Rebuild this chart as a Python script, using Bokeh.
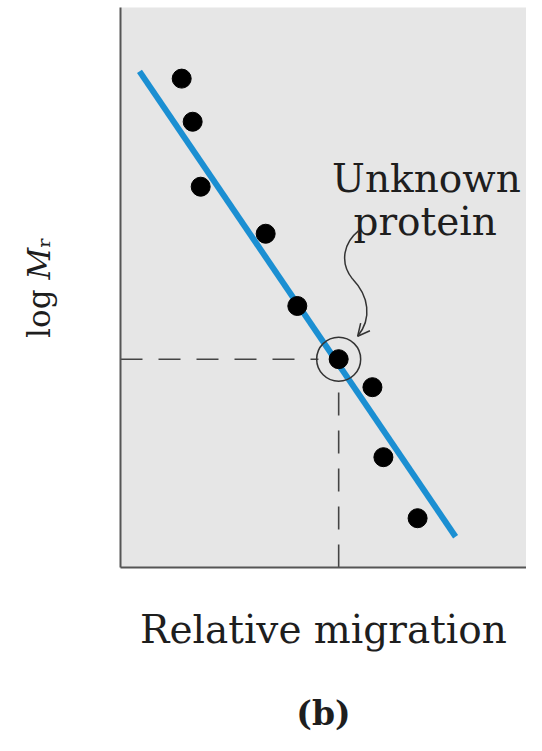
import numpy as np
from bokeh.plotting import figure
from bokeh.models import Range1d, Arrow, OpenHead, LinearAxis
from bokeh.core.properties import value
from bokeh.embed import file_html
from bokeh.resources import INLINE

# ---- data (relative units) ----
migration = [0.145, 0.171, 0.190, 0.344, 0.419, 0.517, 0.597, 0.623, 0.704]
log_mr = [0.873, 0.796, 0.680, 0.596, 0.467, 0.372, 0.322, 0.197, 0.088]
unknown_x = [0.517]
unknown_y = [0.372]
fit_x = [0.045, 0.794]
fit_y = [0.886, 0.055]
annotation_lines = ["Unknown", "protein"]
x_title = "Relative migration"
y_title = "log \U0001D440\u1D63"
panel_label = "(b)"

FONT = "DejaVu Serif"
INK = "#1e1e1e"

p = figure(width=526, height=735,
           x_range=Range1d(0, 406 / 422), y_range=Range1d(0, 1),
           output_backend="svg", toolbar_location=None,
           min_border_left=120, min_border_right=0,
           min_border_top=7, min_border_bottom=168)
p.background_fill_color = "#e6e6e6"
p.border_fill_color = "white"
p.outline_line_color = None
p.grid.visible = False

# panel label carried by a second, line-less axis below the first
label_axis = LinearAxis(axis_label=panel_label, axis_line_color=None)
p.add_layout(label_axis, "below")

for ax in (p.xaxis[0], p.yaxis[0], label_axis):
    ax.ticker = []
    ax.axis_line_color = "#555555" if ax is not label_axis else None
    ax.axis_line_width = 2
    ax.major_tick_line_color = None
    ax.minor_tick_line_color = None
    ax.major_tick_out = 0
    ax.major_tick_in = 0
    ax.major_label_standoff = 0
    ax.axis_label_text_font = FONT
    ax.axis_label_text_font_style = "normal"
    ax.axis_label_text_color = INK

p.xaxis[0].axis_label = x_title
p.xaxis[0].axis_label_text_font_size = "39px"
p.xaxis[0].axis_label_standoff = 39
p.yaxis[0].axis_label = y_title
p.yaxis[0].axis_label_text_font_size = "31px"
p.yaxis[0].axis_label_standoff = 64
label_axis.axis_label_text_font_size = "33px"
label_axis.axis_label_text_font_style = "bold"
label_axis.axis_label_standoff = 39

# dashed guide lines to the unknown protein
ux, uy = unknown_x[0], unknown_y[0]
p.line([0, ux - 0.048], [uy, uy], line_dash="22 16", line_color="#444444", line_width=1.6)
p.line([ux, ux], [0, uy - 0.038], line_dash="23 15", line_color="#444444", line_width=1.6)

# fitted line and standards
p.line(fit_x, fit_y, line_width=6, line_color="#1b8fd2")
p.scatter(migration, log_mr, size=19, color="black")
p.scatter(unknown_x, unknown_y, size=44, fill_color=None, line_color="#333333", line_width=1.5)

# annotation text
p.text(x=[0.725, 0.722], y=[0.694, 0.617], text=annotation_lines,
       text_font=value(FONT), text_font_size="39px", text_align="center",
       text_baseline="alphabetic", text_color=INK)

# curly arrow
p.bezier(x0=[0.564, 0.550], y0=[0.601, 0.515], x1=[0.550, 0.562], y1=[0.515, 0.413],
         cx0=[0.531, 0.588], cy0=[0.581, 0.485], cx1=[0.517, 0.597], cy1=[0.546, 0.445],
         line_color="#333333", line_width=1.5)
p.add_layout(Arrow(end=OpenHead(size=12, line_width=1.5, line_color="#333333"),
                   x_start=0.597, y_start=0.445, x_end=0.562, y_end=0.413,
                   line_alpha=0))

open("out.html", "w").write(file_html(p, INLINE))
